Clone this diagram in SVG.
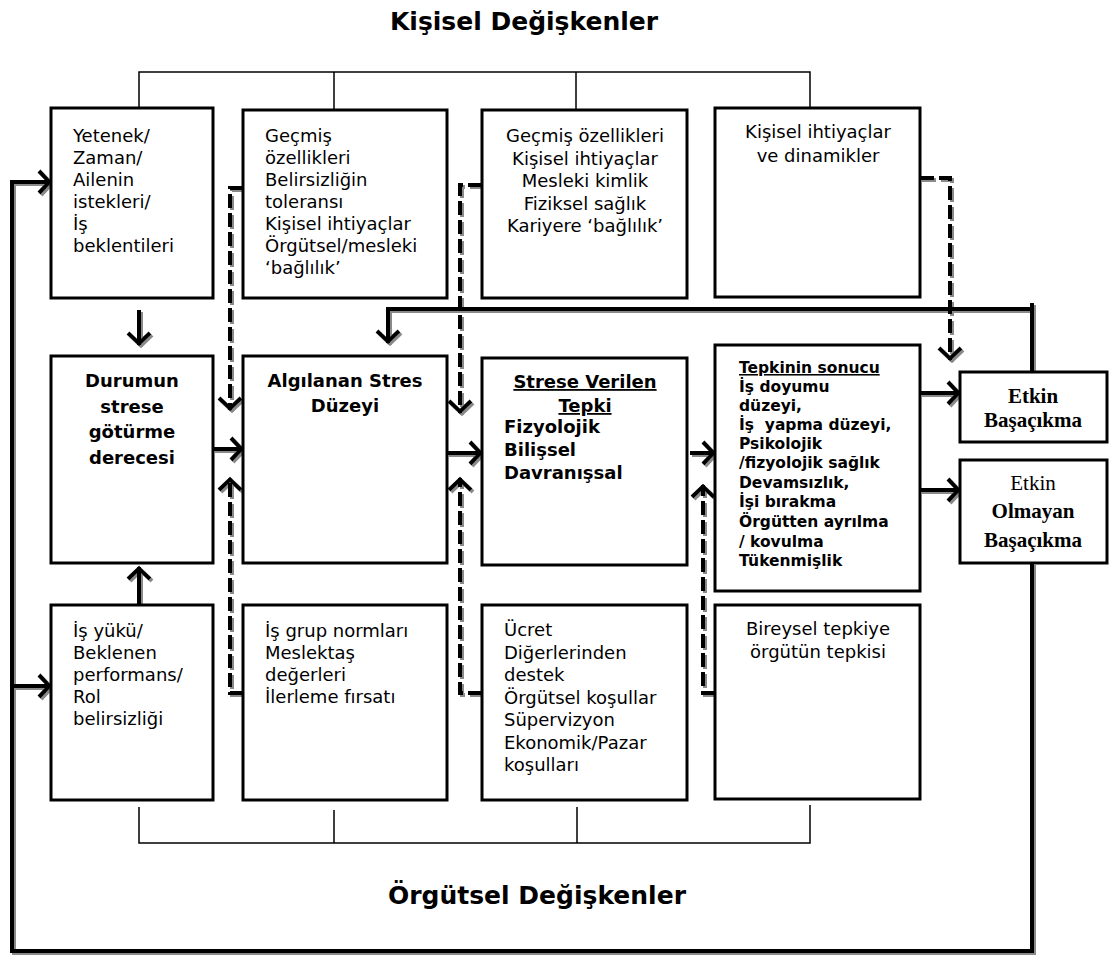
<svg xmlns="http://www.w3.org/2000/svg" width="1109" height="956" viewBox="0 0 1109 956">
<style>
.bx{fill:#fff;stroke:#000;stroke-width:3}
.t{font-family:"DejaVu Sans",Verdana,sans-serif;font-size:18px;fill:#000}
.b{font-family:"DejaVu Sans",Verdana,sans-serif;font-size:18px;font-weight:bold;fill:#000}
.s{font-family:"DejaVu Sans",Verdana,sans-serif;font-size:15.5px;font-weight:bold;fill:#000}
.r{font-family:"Liberation Serif","Times New Roman",serif;font-size:21px;fill:#000}
.h{font-family:"DejaVu Sans",Verdana,sans-serif;font-size:25px;font-weight:bold;fill:#000}
.m{text-anchor:middle}
.c{fill:none;stroke:#000;stroke-width:4}
.d{stroke-dasharray:14 5}
.br{fill:none;stroke:#000;stroke-width:1.5}
</style>
<defs>
<filter id="sh" x="-10%" y="-10%" width="120%" height="120%">
<feDropShadow dx="2" dy="2" stdDeviation="0.6" flood-color="#8a8a8a" flood-opacity="1"/>
</filter>
<marker id="ah" markerUnits="userSpaceOnUse" markerWidth="30" markerHeight="30" viewBox="-15 -15 30 30" refX="0" refY="0" orient="auto" overflow="visible">
<path d="M-12,-11 L-1.5,0 L-12,11" fill="none" stroke="#000" stroke-width="4"/>
</marker>
</defs>
<rect width="1109" height="956" fill="#fff"/>

<text class="h m" x="524" y="30">Kişisel Değişkenler</text>
<text class="h m" x="537" y="904">Örgütsel Değişkenler</text>

<g id="brackets">
<path class="br" d="M139,108 V72 H810 V108 M334,72 V110 M576,72 V110"/>
<path class="br" d="M139,807 V843 H810 V805 M334,810 V843 M577,807 V843"/>
</g>

<g id="connectors" filter="url(#sh)">
<path class="c d" d="M243,188 H230 V410" marker-end="url(#ah)"/>
<path class="c d" d="M243,693 H230 V478" marker-end="url(#ah)"/>
<path class="c d" d="M482,185 H460 V413" marker-end="url(#ah)"/>
<path class="c d" d="M482,693 H460 V478" marker-end="url(#ah)"/>
<path class="c d" d="M920,178 H950 V360" marker-end="url(#ah)"/>
<path class="c d" d="M715,693 H703 V485" marker-end="url(#ah)"/>
<path class="c" d="M139,310 V345" marker-end="url(#ah)"/>
<path class="c" d="M139,605 V567" marker-end="url(#ah)"/>
<path class="c" d="M213,449 H243" marker-end="url(#ah)"/>
<path class="c" d="M447,453 H482" marker-end="url(#ah)"/>
<path class="c" d="M690,453 H715" marker-end="url(#ah)"/>
<path class="c" d="M920,393 H960" marker-end="url(#ah)"/>
<path class="c" d="M920,490 H960" marker-end="url(#ah)"/>
<path class="c" d="M1032,372 V303"/>
<path class="c" d="M1032,309 H388 V343" marker-end="url(#ah)"/>
<path class="c" d="M1032,563 V951 H12 V182 H51" marker-end="url(#ah)"/>
<path class="c" d="M12,686 H51" marker-end="url(#ah)"/>
</g>

<g id="n-yetenek">
<rect class="bx" x="51" y="108" width="162" height="190"/>
<text class="t" x="73" y="142">Yetenek/</text>
<text class="t" x="73" y="164">Zaman/</text>
<text class="t" x="73" y="186">Ailenin</text>
<text class="t" x="73" y="208">istekleri/</text>
<text class="t" x="73" y="230">İş</text>
<text class="t" x="73" y="252">beklentileri</text>
</g>

<g id="n-gecmis1">
<rect class="bx" x="243" y="110" width="204" height="188"/>
<text class="t" x="265" y="142">Geçmiş</text>
<text class="t" x="265" y="164">özellikleri</text>
<text class="t" x="265" y="186">Belirsizliğin</text>
<text class="t" x="265" y="208">toleransı</text>
<text class="t" x="265" y="230">Kişisel ihtiyaçlar</text>
<text class="t" x="265" y="252">Örgütsel/mesleki</text>
<text class="t" x="265" y="274">‘bağlılık’</text>
</g>

<g id="n-gecmis2">
<rect class="bx" x="482" y="110" width="205" height="188"/>
<text class="t m" x="585" y="142">Geçmiş özellikleri</text>
<text class="t m" x="585" y="164.5">Kişisel ihtiyaçlar</text>
<text class="t m" x="585" y="187">Mesleki kimlik</text>
<text class="t m" x="585" y="209.5">Fiziksel sağlık</text>
<text class="t m" x="585" y="232">Kariyere ‘bağlılık’</text>
</g>

<g id="n-kisisel">
<rect class="bx" x="715" y="108" width="205" height="189"/>
<text class="t m" x="818" y="138">Kişisel ihtiyaçlar</text>
<text class="t m" x="818" y="162">ve dinamikler</text>
</g>

<g id="n-durumun">
<rect class="bx" x="51" y="356" width="162" height="207"/>
<text class="b m" x="132" y="387">Durumun</text>
<text class="b m" x="132" y="412.5">strese</text>
<text class="b m" x="132" y="438">götürme</text>
<text class="b m" x="132" y="463.5">derecesi</text>
</g>

<g id="n-algilanan">
<rect class="bx" x="243" y="356" width="204" height="207"/>
<text class="b m" x="345" y="387">Algılanan Stres</text>
<text class="b m" x="345" y="412">Düzeyi</text>
</g>

<g id="n-tepki">
<rect class="bx" x="482" y="358" width="205" height="207"/>
<text class="b m" x="585" y="388" text-decoration="underline">Strese Verilen</text>
<text class="b m" x="585" y="412" text-decoration="underline">Tepki</text>
<text class="b" x="504" y="433">Fizyolojik</text>
<text class="b" x="504" y="456">Bilişsel</text>
<text class="b" x="504" y="479">Davranışsal</text>
</g>

<g id="n-sonuc">
<rect class="bx" x="715" y="345" width="205" height="246"/>
<text class="s" x="739" y="373" text-decoration="underline">Tepkinin sonucu</text>
<text class="s" x="739" y="392">İş doyumu</text>
<text class="s" x="739" y="410.5">düzeyi,</text>
<text class="s" x="739" y="429.5" xml:space="preserve">İş  yapma düzeyi,</text>
<text class="s" x="739" y="448.5">Psikolojik</text>
<text class="s" x="739" y="468">/fizyolojik sağlık</text>
<text class="s" x="739" y="487.5">Devamsızlık,</text>
<text class="s" x="739" y="507">İşi bırakma</text>
<text class="s" x="739" y="527">Örgütten ayrılma</text>
<text class="s" x="739" y="547">/ kovulma</text>
<text class="s" x="739" y="566">Tükenmişlik</text>
</g>

<g id="n-etkin">
<rect class="bx" x="960" y="372" width="147" height="70"/>
<text class="r m" x="1033" y="403" font-weight="bold">Etkin</text>
<text class="r m" x="1033" y="427" font-weight="bold">Başaçıkma</text>
</g>

<g id="n-etkin-olmayan">
<rect class="bx" x="960" y="460" width="147" height="103"/>
<text class="r m" x="1033" y="490">Etkin</text>
<text class="r m" x="1033" y="518" font-weight="bold">Olmayan</text>
<text class="r m" x="1033" y="547" font-weight="bold">Başaçıkma</text>
</g>

<g id="n-isyuku">
<rect class="bx" x="51" y="605" width="162" height="195"/>
<text class="t" x="73" y="637">İş yükü/</text>
<text class="t" x="73" y="659">Beklenen</text>
<text class="t" x="73" y="681">performans/</text>
<text class="t" x="73" y="703">Rol</text>
<text class="t" x="73" y="725">belirsizliği</text>
</g>

<g id="n-isgrup">
<rect class="bx" x="243" y="605" width="204" height="195"/>
<text class="t" x="265" y="637">İş grup normları</text>
<text class="t" x="265" y="659">Meslektaş</text>
<text class="t" x="265" y="681">değerleri</text>
<text class="t" x="265" y="703">İlerleme fırsatı</text>
</g>

<g id="n-ucret">
<rect class="bx" x="482" y="605" width="205" height="195"/>
<text class="t" x="504" y="636">Ücret</text>
<text class="t" x="504" y="658.5">Diğerlerinden</text>
<text class="t" x="504" y="681">destek</text>
<text class="t" x="504" y="703.5">Örgütsel koşullar</text>
<text class="t" x="504" y="726">Süpervizyon</text>
<text class="t" x="504" y="748.5">Ekonomik/Pazar</text>
<text class="t" x="504" y="771">koşulları</text>
</g>

<g id="n-bireysel">
<rect class="bx" x="715" y="605" width="205" height="194"/>
<text class="t m" x="818" y="635">Bireysel tepkiye</text>
<text class="t m" x="818" y="658">örgütün tepkisi</text>
</g>
</svg>
